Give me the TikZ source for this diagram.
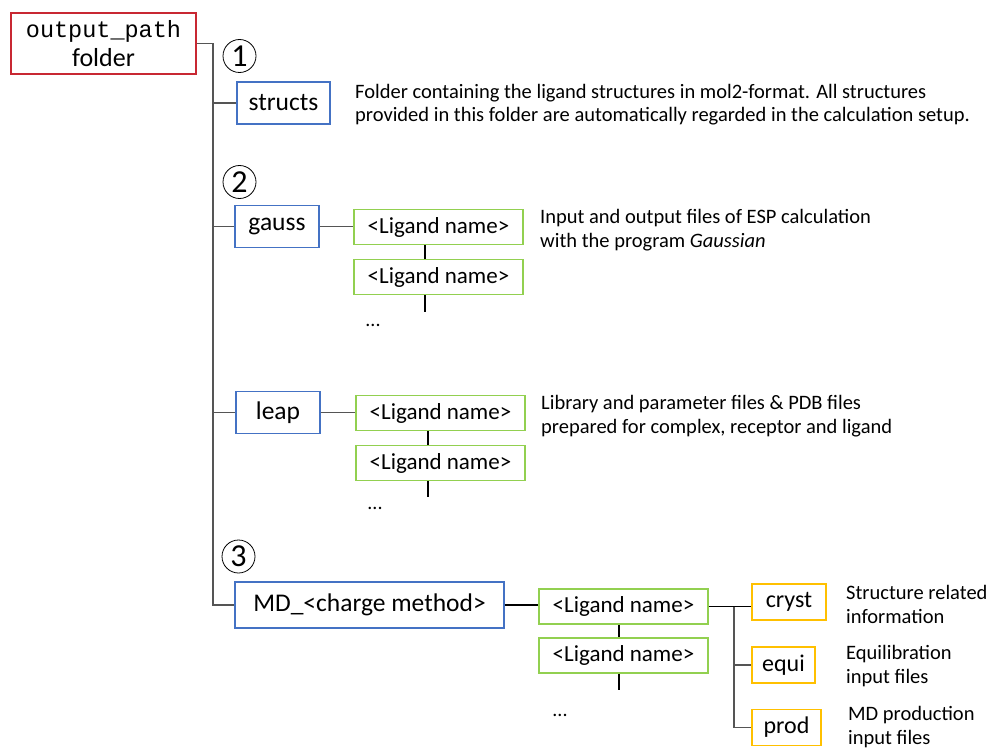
\documentclass[tikz,border=0pt]{standalone}
\usepackage{fontspec}
\setmainfont{Carlito}
\setmonofont{Liberation Mono}
\usetikzlibrary{positioning}

\definecolor{rootred}{RGB}{200,40,50}
\definecolor{dirblue}{RGB}{68,114,196}
\definecolor{ligreen}{RGB}{146,208,80}
\definecolor{subyellow}{RGB}{255,192,0}
\definecolor{treegray}{RGB}{85,85,85}

\tikzset{
  box/.style={draw, line width=1.2pt, inner sep=0pt, align=center, font=\fontsize{25.5}{29}\selectfont},
  rootbox/.style={box, draw=rootred, minimum width=185pt, minimum height=61pt},
  dirbox/.style={box, draw=dirblue, minimum height=42pt},
  ligbox/.style={box, draw=ligreen, minimum width=169pt, minimum height=35pt, font=\fontsize{23}{26}\selectfont},
  subbox/.style={box, draw=subyellow, minimum height=36pt, font=\fontsize{24}{27}\selectfont},
  desc/.style={anchor=west, inner sep=0pt, align=left, font=\fontsize{20.5}{23.5}\selectfont},
  dots/.style={inner sep=0pt, font=\fontsize{20}{22}\selectfont},
  step num/.style={draw, circle, line width=0.8pt, minimum size=33pt, inner sep=0pt, font=\fontsize{32}{34}\selectfont},
  tree/.style={treegray, line width=1.4pt},
  chain/.style={black, line width=2pt}
}

\begin{document}
\begin{tikzpicture}[x=1pt, y=-1pt]
\useasboundingbox (0,0) rectangle (990,749);

\node[rootbox] (out) at (103.5,43.5) {{\fontsize{23.5}{27}\selectfont\texttt{output\_path}}\\{\fontsize{26}{29}\selectfont folder}};
\coordinate (trunk) at (213,43.5);

\node[step num] (n1) at (239.5,56) {1};
\node[step num] (n2) at (239.5,182) {2};
\node[step num] (n3) at (238.5,556.5) {3};

\node[dirbox, minimum width=93pt] (structs) at (283.5,103) {structs};
\node[dirbox, minimum width=84pt] (gauss) at (277,226.5) {gauss};
\node[dirbox, minimum width=84pt] (leap) at (278,412.5) {leap};
\node[dirbox, minimum width=269pt, minimum height=46pt] (md) at (369.5,605) {MD\_<charge method>};

\node[ligbox] (g1) at (438.5,227) {<Ligand name>};
\node[ligbox] (g2) at (438.5,277) {<Ligand name>};
\node[ligbox] (l1) at (440.5,413) {<Ligand name>};
\node[ligbox] (l2) at (440.5,463) {<Ligand name>};
\node[ligbox] (m1) at (623.5,606.5) {<Ligand name>};
\node[ligbox] (m2) at (623.5,655.5) {<Ligand name>};

\node[dots] (gdots) at (373,325) {...};
\node[dots] (ldots) at (375,508) {...};
\node[dots] (mdots) at (560,715) {...};

\node[subbox, minimum width=74pt] (cryst) at (789,602) {cryst};
\node[subbox, minimum width=63pt] (equi) at (783.5,665) {equi};
\node[subbox, minimum width=69pt] (prod) at (786.5,727.5) {prod};

\node[desc] (dstructs) at (355,104.5) {Folder containing the ligand structures in mol2-format. All structures\\provided in this folder are automatically regarded in the calculation setup.};
\node[desc] (dgauss) at (540,230) {Input and output files of ESP calculation\\with the program \textit{Gaussian}};
\node[desc] (dleap) at (541,416) {Library and parameter files \& PDB files\\prepared for complex, receptor and ligand};
\node[desc] (dcryst) at (846,604.5) {Structure related\\information};
\node[desc] (dequi) at (846,666) {Equilibration\\input files};
\node[desc] (dprod) at (848,727) {MD production\\input files};

\draw[tree] (out.east) -- (trunk) |- (md.west);
\foreach \d in {structs, gauss, leap}
  \draw[tree] (trunk |- \d.west) -- (\d.west);

\draw[tree] (gauss.east) -- (gauss.east -| g1.west);
\draw[tree] (leap.east) -- (leap.east -| l1.west);
\draw[tree, black] (md.east) -- (md.east -| m1.west);

\coordinate (gx) at (425,0);
\coordinate (lx) at (427.5,0);
\coordinate (mx) at (619,0);
\draw[chain] (gx |- g1.south) -- (gx |- g2.north);
\draw[chain] (gx |- g2.south) -- ([yshift=-17pt]gx |- g2.south);
\draw[chain] (lx |- l1.south) -- (lx |- l2.north);
\draw[chain] (lx |- l2.south) -- ([yshift=-16pt]lx |- l2.south);
\draw[chain] (mx |- m1.south) -- (mx |- m2.north);
\draw[chain] (mx |- m2.south) -- ([yshift=-16pt]mx |- m2.south);

\coordinate (fork) at (734,0);
\draw[tree, black] (m1.east) -- (m1.east -| cryst.west);
\draw[tree] (fork |- m1.east) |- (prod.west);
\draw[tree] (fork |- equi.west) -- (equi.west);
\end{tikzpicture}
\end{document}
